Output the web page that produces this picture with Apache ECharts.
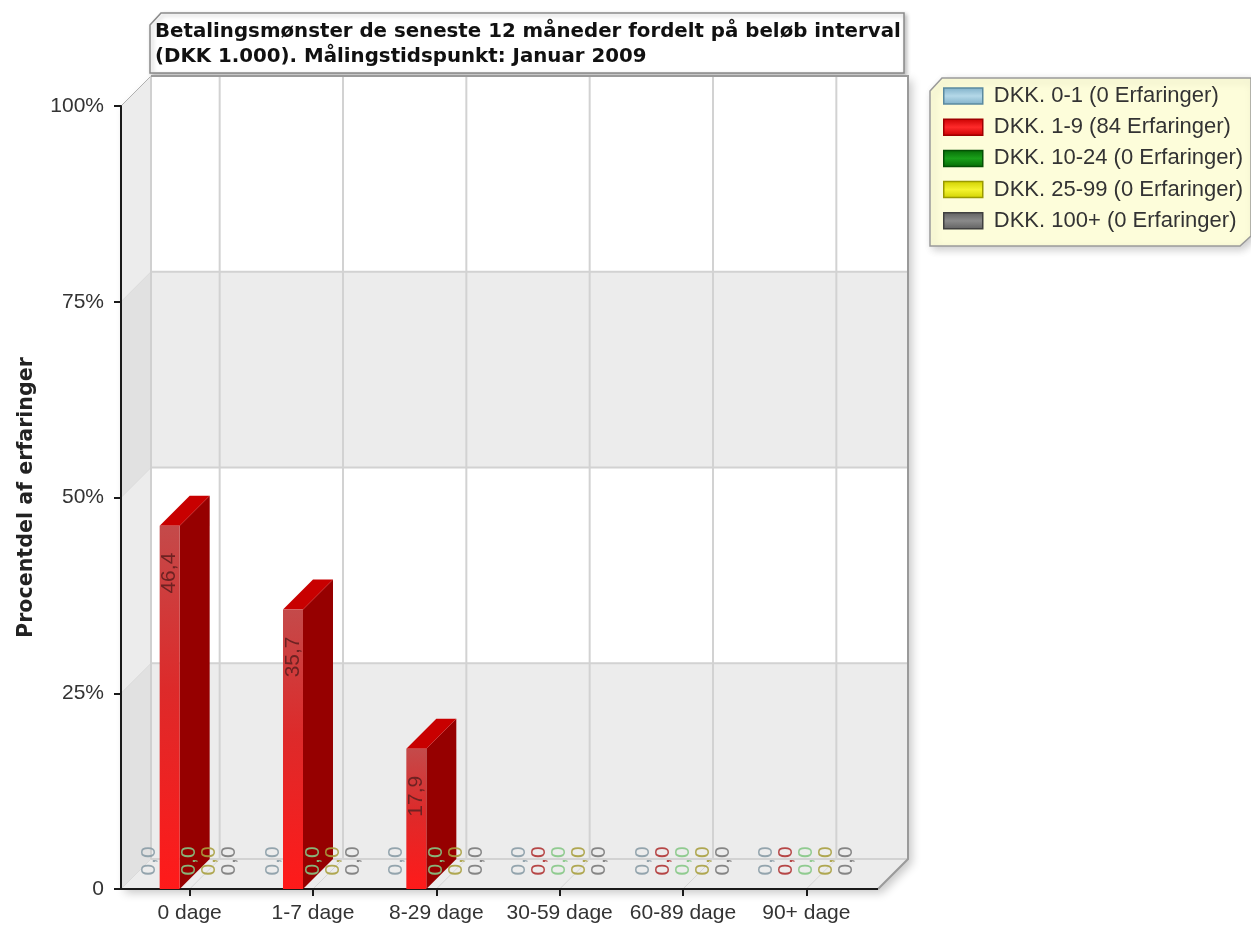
<!DOCTYPE html>
<html>
<head>
<meta charset="utf-8">
<script src="https://cdn.jsdelivr.net/npm/echarts@6/dist/echarts.min.js"></script>
<style>
html,body{margin:0;padding:0;background:#fff;}
#chart{width:1251px;height:928px;}
</style>
</head>
<body>
<div id="chart"></div>
<script>
// ---------- data ----------
const categories = ['0 dage', '1-7 dage', '8-29 dage', '30-59 dage', '60-89 dage', '90+ dage'];
const seriesNames = ['DKK. 0-1 (0 Erfaringer)', 'DKK. 1-9 (84 Erfaringer)', 'DKK. 10-24 (0 Erfaringer)', 'DKK. 25-99 (0 Erfaringer)', 'DKK. 100+ (0 Erfaringer)'];
const dkk0_1   = [0, 0, 0, 0, 0, 0];
const dkk1_9   = [46.4, 35.7, 17.9, 0, 0, 0];
const dkk10_24 = [0, 0, 0, 0, 0, 0];
const dkk25_99 = [0, 0, 0, 0, 0, 0];
const dkk100   = [0, 0, 0, 0, 0, 0];
const yTicks = [0, 25, 50, 75, 100];
const yTickLabels = ['0', '25%', '50%', '75%', '100%'];
const titleLines = ['Betalingsmønster de seneste 12 måneder fordelt på beløb interval', '(DKK 1.000). Målingstidspunkt: Januar 2009'];
const yAxisName = 'Procentdel af erfaringer';

// ---------- styles ----------
const seriesValues = [dkk0_1, dkk1_9, dkk10_24, dkk25_99, dkk100];
const palette = [
  {front: ['#a9d0e2', '#7fb6d2'], top: '#7aaec8', side: '#5a8fa8', label: '#8a9ca6', swatch: ['#7fb0c8', '#b4d8e8', '#7fb0c8'], border: '#5b8aa0'},
  {front: ['#c44a4a', '#ff1a1a'], top: '#c80000', side: '#960000', label: '#b03434', swatch: ['#c80000', '#ff2a2a', '#c80000'], border: '#a00000'},
  {front: ['#3aa03a', '#109010'], top: '#0a7a0a', side: '#065a06', label: '#86c886', swatch: ['#066a06', '#1aa01a', '#066a06'], border: '#045004'},
  {front: ['#e8e860', '#e6e600'], top: '#c8c800', side: '#9a9a00', label: '#a8a040', swatch: ['#d0d000', '#f4f430', '#d0d000'], border: '#9a9a00'},
  {front: ['#9a9a9a', '#707070'], top: '#606060', side: '#484848', label: '#7a7a7a', swatch: ['#606060', '#8a8a8a', '#606060'], border: '#404040'}
];
const DX = 30, DY = -30;
const BAR_FRAC = 20 / 123.33;
const FONT = '"Liberation Sans", Arial, sans-serif';
const fmt = v => v.toFixed(1).replace('.', ',');

function bgRender(params, api) {
  const cs = params.coordSys;
  const FL = cs.x - 7, FR = cs.x + cs.width + 10;
  const yT = api.coord([0, 100])[1], yB = api.coord([0, 0])[1];
  const ch = [];
  ch.push({type: 'polygon', shape: {points: [[FL, yT], [FL + DX, yT + DY], [FR + DX, yT + DY], [FR + DX, yB + DY], [FR, yB], [FL, yB]]},
    style: {fill: '#fff', shadowBlur: 10, shadowColor: 'rgba(0,0,0,0.22)', shadowOffsetX: 4, shadowOffsetY: 4}});
  for (let k = 0; k < yTicks.length - 1; k++) {
    const lo = api.coord([0, yTicks[k]])[1], hi = api.coord([0, yTicks[k + 1]])[1];
    const gray = (k % 2 === 0);
    ch.push({type: 'rect', shape: {x: FL + DX, y: hi + DY, width: FR - FL, height: lo - hi},
      style: {fill: gray ? '#ececec' : '#ffffff'}});
    ch.push({type: 'polygon', shape: {points: [[FL, hi], [FL + DX, hi + DY], [FL + DX, lo + DY], [FL, lo]]},
      style: {fill: gray ? '#e1e1e1' : '#ececec'}});
  }
  ch.push({type: 'polygon', shape: {points: [[FL, yB], [FR, yB], [FR + DX, yB + DY], [FL + DX, yB + DY]]},
    style: {fill: '#ececec'}});
  yTicks.forEach(t => {
    const y = api.coord([0, t])[1];
    if (t < 100) ch.push({type: 'line', shape: {x1: FL + DX, y1: y + DY, x2: FR + DX, y2: y + DY}, style: {stroke: '#d2d2d2', lineWidth: 2}});
    ch.push({type: 'line', shape: {x1: FL, y1: y, x2: FL + DX, y2: y + DY}, style: {stroke: t === 100 ? '#b0b0b0' : '#dadada', lineWidth: 1}});
  });
  categories.forEach((c, i) => {
    const x = api.coord([i, 0])[0];
    ch.push({type: 'line', shape: {x1: x + DX, y1: yT + DY, x2: x + DX, y2: yB + DY}, style: {stroke: '#d2d2d2', lineWidth: 2}});
    ch.push({type: 'line', shape: {x1: x, y1: yB, x2: x + DX, y2: yB + DY}, style: {stroke: '#d6d6d6', lineWidth: 1}});
  });
  ch.push({type: 'line', shape: {x1: FL + DX, y1: yT + DY, x2: FL + DX, y2: yB + DY}, style: {stroke: '#d0d0d0', lineWidth: 2}});
  ch.push({type: 'polyline', shape: {points: [[FL + DX, yT + DY], [FR + DX, yT + DY], [FR + DX, yB + DY], [FR, yB]]},
    style: {stroke: '#9a9a9a', lineWidth: 2, fill: null}});
  ch.push({type: 'line', shape: {x1: FL, y1: yB, x2: FR, y2: yB}, style: {stroke: '#1a1a1a', lineWidth: 2}});
  return {type: 'group', children: ch};
}

function barRender(si) {
  const pal = palette[si];
  return function (params, api) {
    const ci = api.value(0), v = api.value(1);
    const base = api.coord([ci, 0]);
    const top = api.coord([ci, v]);
    const band = api.size([1, 0])[0];
    const bw = band * BAR_FRAC;
    const cx = base[0] + (si - 2) * bw;
    const x0 = cx - bw / 2, x1 = cx + bw / 2;
    const yb = base[1], yt = top[1];
    const ch = [];
    if (v > 0) {
      ch.push({type: 'polygon', shape: {points: [[x1, yt], [x1 + DX, yt + DY], [x1 + DX, yb + DY], [x1, yb]]}, style: {fill: pal.side}});
      ch.push({type: 'polygon', shape: {points: [[x0, yt], [x0 + DX, yt + DY], [x1 + DX, yt + DY], [x1, yt]]}, style: {fill: pal.top}});
      ch.push({type: 'rect', shape: {x: x0, y: yt, width: bw, height: yb - yt},
        style: {fill: {type: 'linear', x: 0, y: 0, x2: 0, y2: 1, colorStops: [{offset: 0, color: pal.front[0]}, {offset: 0.45, color: '#dd2a2a'}, {offset: 1, color: pal.front[1]}]}}});
      ch.push({type: 'text', x: cx, y: yt + 27, rotation: Math.PI / 2,
        style: {text: fmt(v), fill: '#6e2222', font: '21px ' + FONT, align: 'right', verticalAlign: 'middle'}});
    } else {
      ch.push({type: 'text', x: cx, y: yb - 28, rotation: Math.PI / 2,
        style: {text: fmt(v), fill: pal.label, font: '21px ' + FONT, align: 'center', verticalAlign: 'middle', opacity: 0.9}});
    }
    return {type: 'group', children: ch};
  };
}

const chart = echarts.init(document.getElementById('chart'), null, {renderer: 'canvas'});

const series = [{
  type: 'custom', name: '__bg', coordinateSystem: 'cartesian2d', renderItem: bgRender,
  data: [[0, 0]], z: 0, silent: true, clip: false
}];
seriesNames.forEach((n, si) => {
  series.push({
    type: 'custom', name: n, coordinateSystem: 'cartesian2d', renderItem: barRender(si),
    itemStyle: {color: palette[si].swatch[1]},
    data: seriesValues[si].map((v, i) => [i, v]), z: 2, clip: false
  });
});

const option = {
  animation: false,
  backgroundColor: '#ffffff',
  grid: {left: 128, width: 740, top: 106, height: 783, containLabel: false},
  xAxis: {
    type: 'category', data: categories, boundaryGap: true,
    axisLine: {show: false},
    axisTick: {show: true, alignWithLabel: true, length: 7, lineStyle: {color: '#1a1a1a', width: 2}},
    axisLabel: {color: '#333', fontSize: 21, fontFamily: FONT, margin: 14, interval: 0},
    splitLine: {show: false}
  },
  yAxis: {
    type: 'value', min: 0, max: 100, interval: 25, offset: 7,
    name: yAxisName, nameLocation: 'middle', nameGap: 84, nameRotate: 90,
    nameTextStyle: {fontFamily: '"DejaVu Sans", sans-serif', fontWeight: 'bold', fontSize: 20.6, color: '#222'},
    axisLine: {show: true, lineStyle: {color: '#1a1a1a', width: 2}},
    axisTick: {show: true, length: 7, lineStyle: {color: '#1a1a1a', width: 2}},
    axisLabel: {color: '#333', fontSize: 21, fontFamily: FONT, margin: 17,
      formatter: v => yTickLabels[yTicks.indexOf(v)]},
    splitLine: {show: false}
  },
  legend: {
    orient: 'vertical', left: 943, top: 85, padding: 0, itemWidth: 39, itemHeight: 16, itemGap: 9.2,
    icon: 'rect',
    textStyle: {color: '#333', fontSize: 22, fontFamily: FONT, padding: [0, 0, 0, 6]},
    data: seriesNames.map((n, si) => ({
      name: n,
      itemStyle: {
        color: {type: 'linear', x: 0, y: 0, x2: 0, y2: 1, colorStops: [
          {offset: 0, color: palette[si].swatch[0]}, {offset: 0.5, color: palette[si].swatch[1]}, {offset: 1, color: palette[si].swatch[2]}]},
        borderColor: palette[si].border, borderWidth: 1.5
      }
    })),
    selectedMode: false
  },
  graphic: [
    {
      type: 'polygon', z: -1,
      shape: {points: [[930, 91], [942, 78], [1251, 78], [1251, 236], [1240, 246], [930, 246]]},
      style: {fill: '#fdfdda', stroke: '#9a9a9a', lineWidth: 1.5, shadowBlur: 8, shadowColor: 'rgba(0,0,0,0.2)', shadowOffsetX: 3, shadowOffsetY: 3}
    },
    {
      type: 'group', z: 10,
      children: [
        {type: 'polygon', shape: {points: [[150, 25], [161, 13], [904, 13], [904, 73], [150, 73]]},
          style: {fill: '#ffffff', stroke: '#8a8a8a', lineWidth: 1.5, shadowBlur: 4, shadowColor: 'rgba(0,0,0,0.25)', shadowOffsetX: 2, shadowOffsetY: 2}},
        {type: 'text', x: 155, y: 32, style: {text: titleLines[0], font: 'bold 19.8px "DejaVu Sans", sans-serif', fill: '#111', verticalAlign: 'middle'}},
        {type: 'text', x: 155, y: 57, style: {text: titleLines[1], font: 'bold 19.8px "DejaVu Sans", sans-serif', fill: '#111', verticalAlign: 'middle'}}
      ]
    }
  ],
  series: series
};
chart.setOption(option);
</script>
</body>
</html>
